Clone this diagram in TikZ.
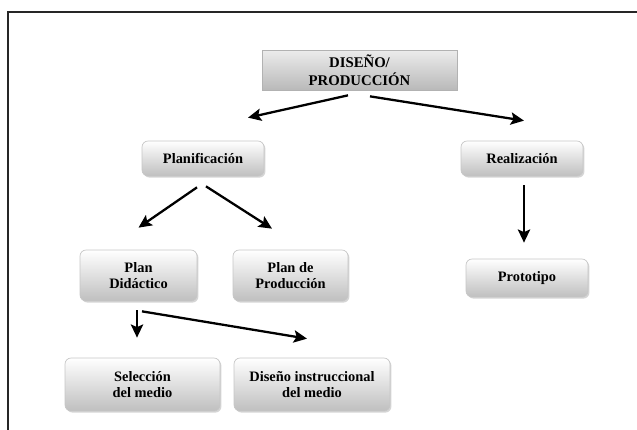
\documentclass[tikz,border=0pt]{standalone}
\usetikzlibrary{arrows.meta, calc, shadows}
\usepackage{fontspec}
\setmainfont{Liberation Serif}
\def\px{0.02cm}

\begin{document}
\begin{tikzpicture}[x=\px, y=-\px, >={Stealth[length=7.5pt,width=7pt,inset=1.5pt]}]
    \tikzstyle{box}=[rectangle, rounded corners=0.12cm, draw=gray!45, line width=0.4pt, top color=white, bottom color=gray!50, drop shadow={shadow xshift=0.8pt, shadow yshift=-0.9pt, fill=gray!65}, align=center, inner sep=0pt, font=\bfseries\fontsize{8.2}{9.5}\selectfont]
    \tikzstyle{top box}=[rectangle, draw=gray!60, line width=0.4pt, top color=gray!15, bottom color=gray!55, align=center, inner sep=0pt, font=\bfseries\fontsize{8.4}{10.5}\selectfont]
    \tikzstyle{link}=[->, line width=1.3pt, black]

    \useasboundingbox (0,0) rectangle (637,430);

    % frame of the page
    \draw[line width=0.9pt, black!85] (637,12) -- (8,12) -- (8,430);

    % Draw the top node
    \node[top box, minimum width=3.9cm, minimum height=0.8cm] (dis) at (359.5,70) {DISEÑO/\\PRODUCCIÓN};

    % Draw the second level
    \node[box, minimum width=2.44cm, minimum height=0.7cm] (planif) at (203,158.5) {Planificación};
    \node[box, minimum width=2.44cm, minimum height=0.7cm] (realiz) at (522,158.5) {Realización};

    % Draw the third level
    \node[box, minimum width=2.34cm, minimum height=1.02cm] (plandid) at (138.5,275.5) {Plan\\Didáctico};
    \node[box, minimum width=2.30cm, minimum height=1.02cm] (planprod) at (290.5,275.5) {Plan de\\Producción};
    \node[box, minimum width=2.44cm, minimum height=0.76cm] (proto) at (527,278) {Prototipo};

    % Draw the bottom level
    \node[box, minimum width=3.1cm, minimum height=1.06cm] (selec) at (142.5,384.5) {Selección\\del medio};
    \node[box, minimum width=3.12cm, minimum height=1.06cm] (disinst) at (312,384.5) {Diseño instruccional\\del medio};

    % Connect the levels
    \draw[link] ($(dis.south)+(-11.5,5)$) -- ($(planif.north)+(45,-23)$);
    \draw[link] ($(dis.south)+(10.5,6)$) -- ($(realiz.north)+(2,-20)$);
    \draw[link] ($(planif.south)+(-6,11)$) -- ($(plandid.north)+(0,-22)$);
    \draw[link] ($(planif.south)+(3,10)$) -- ($(planprod.north)+(-18.5,-21)$);
    \draw[link] ($(realiz.south)+(2,9)$) -- ($(proto.north)+(-3,-16)$);
    \draw[link] ($(plandid.south)+(-1.5,9)$) -- ($(selec.north)+(-5.5,-20)$);
    \draw[link] ($(plandid.south)+(3.5,10)$) -- ($(disinst.north)+(-5,-19)$);

\end{tikzpicture}
\end{document}
